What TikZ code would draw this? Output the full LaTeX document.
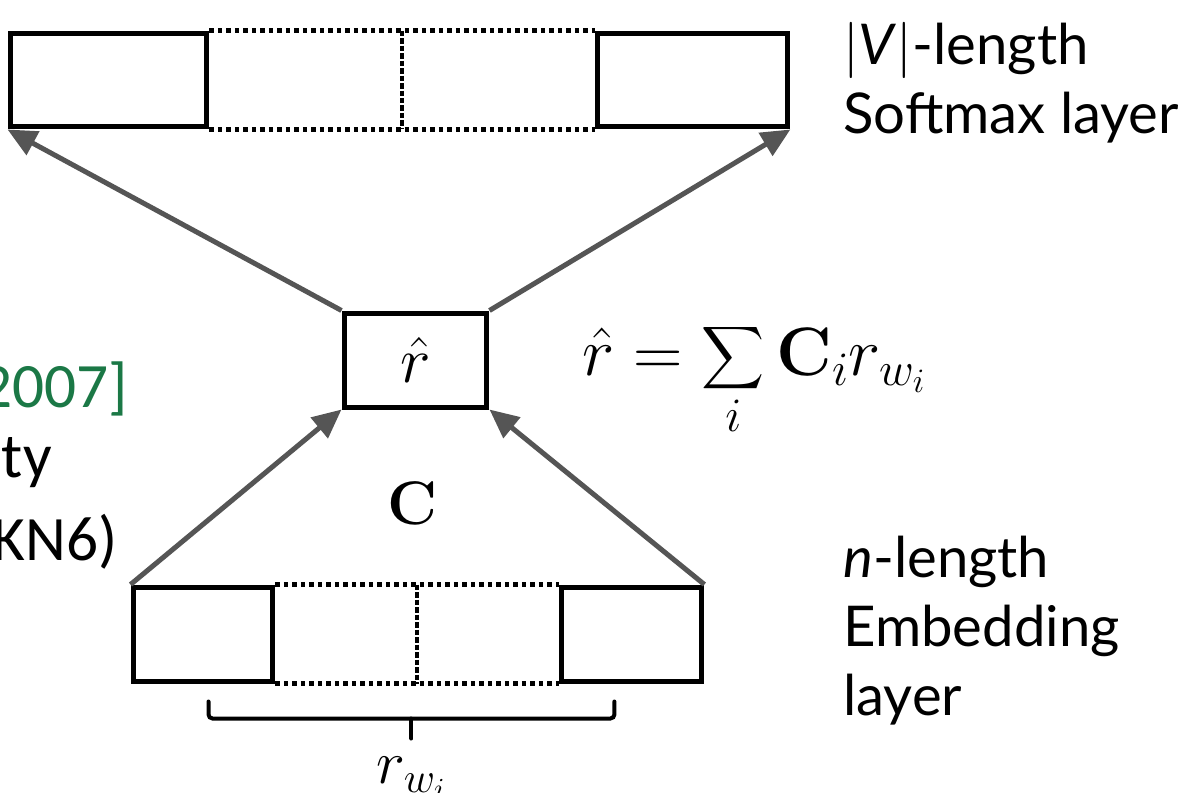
\RequirePackage{fix-cm}
\documentclass[tikz,border=0pt]{standalone}
\usepackage{amsmath}
\usepackage[no-math]{fontspec}
\newfontfamily\gill{Lato}
\newfontfamily\calib{Carlito}
\usetikzlibrary{positioning, arrows.meta, calc}
\usepackage{xcolor}
\definecolor{arrowgray}{HTML}{555555}
\definecolor{citegreen}{HTML}{1B7846}

\begin{document}
\begin{tikzpicture}[
    x=0.02cm, y=-0.02cm,
    cell/.style={rectangle, draw=black, line width=0.1cm, minimum height=1.88cm,
                 inner sep=0pt, font=\fontsize{37}{44}\selectfont},
    gap/.style={draw=black, line width=0.09cm, dash pattern=on 0.09cm off 0.08cm},
    mid_div/.style={draw=black, line width=0.08cm, dash pattern=on 0.11cm off 0.04cm},
    arr/.style={-{Triangle[length=0.58cm, width=0.52cm]}, draw=arrowgray, line width=0.1cm},
    bracket/.style={draw=black, line width=0.08cm, rounded corners=0.08cm, line cap=round},
    side_text/.style={font=\gill\fontsize{32}{39}\selectfont, align=left, anchor=base west, inner sep=0pt},
    cut_text/.style={font=\calib\fontsize{36}{43}\selectfont, anchor=base east, inner sep=0pt},
    math_text/.style={font=\fontsize{35}{42}\selectfont, inner sep=0pt}
]
\useasboundingbox (0,0) rectangle (1199,792);

% softmax layer (top)
\node[cell, minimum width=3.94cm] (sm_first) at (108.5,80) {};
\node[cell, minimum width=3.8cm, right=7.72cm of sm_first] (sm_last) {};
\draw[gap] (sm_first.north east) -- (sm_last.north west);
\draw[gap] (sm_first.south east) -- (sm_last.south west);
\draw[mid_div] ($(sm_first.north east)!0.5!(sm_last.north west)$) -- ($(sm_first.south east)!0.5!(sm_last.south west)$);

% projection
\node[cell, minimum width=2.86cm] (rhat) at (415.5,360) {$\hat{r}$};

% embedding layer (bottom)
\node[cell, minimum width=2.8cm] (emb_first) at (203,634) {};
\node[cell, minimum width=2.8cm, right=5.68cm of emb_first] (emb_last) {};
\draw[gap] (emb_first.north east) -- (emb_last.north west);
\draw[gap] (emb_first.south east) -- (emb_last.south west);
\draw[mid_div] ($(emb_first.north east)!0.5!(emb_last.north west)$) -- ($(emb_first.south east)!0.5!(emb_last.south west)$);

% connections
\draw[arr] (rhat.north west) -- (sm_first.south west);
\draw[arr] (rhat.north east) -- (sm_last.south east);
\draw[arr] (emb_first.north west) -- (rhat.south west);
\draw[arr] (emb_last.north east) -- (rhat.south east);

\node[math_text] (cmat) at (412,503) {$\mathbf{C}$};
\node[math_text, font=\fontsize{39}{46}\selectfont, anchor=base west] (sum_eq) at (582,375) {$\displaystyle \hat{r} = \sum_{i} \mathbf{C}_i r_{w_i}$};

% bracket under the embedding
\coordinate (br_left) at ($(emb_first.south west)+(78,18)$);
\coordinate (br_right) at ($(emb_last.south east)+(-90,18)$);
\draw[bracket] (br_left) -- ++(0,17) -- ($(br_right)+(0,17)$) -- (br_right);
\draw[bracket] ($(br_left)!0.5!(br_right)+(0,17)$) -- ++(0,20) coordinate (br_tip);
\node[math_text, anchor=base] (rwi) at ($(br_tip)+(0,45)$) {$r_{w_i}$};

% labels
\node[side_text] (sm_lbl) at (843,133) {$|$\textit{V}$|$-length\\Softmax layer};
\node[side_text] (emb_lbl) at (843,715) {\textit{n}-length\\Embedding\\layer};

\node[cut_text, text=citegreen] (cite_year) at (128,407) {2007]};
\node[cut_text] (ppl_tail) at (52,477) {ty};
\node[cut_text] (model_tail) at (118,560) {KN6)};
\end{tikzpicture}
\end{document}
